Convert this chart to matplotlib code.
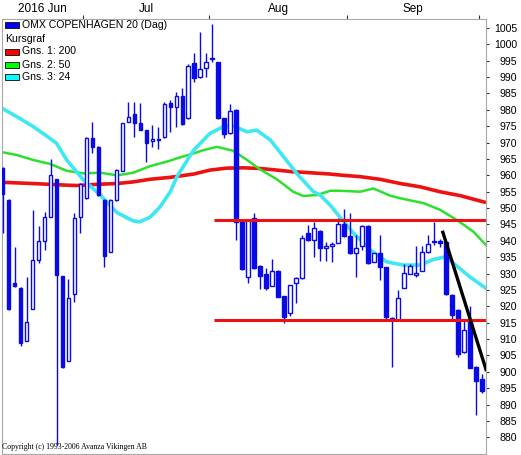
import matplotlib
matplotlib.use('Agg')
import matplotlib.pyplot as plt
from matplotlib.patches import Rectangle
from matplotlib.transforms import Affine2D

# OMX Copenhagen 20, daily, Jun-Sep 2016
opens = [962.3, 952.5, 927.0, 925.7, 909.5, 919.3, 934.1, 940.0, 947.4, 958.8,
         929.2, 903.4, 923.9, 947.4, 953.0, 971.3, 968.7, 952.5, 936.7, 952.5,
         961.4, 976.4, 978.6, 975.9, 973.8, 970.5, 970.9, 971.6, 982.0, 980.8,
         984.2, 977.4, 994.2, 989.9, 992.7, 995.8, 994.5, 977.4, 972.8, 980.0,
         946.3, 929.0, 946.9, 932.3, 929.8, 926.3, 930.8, 923.1, 918.1, 927.0,
         928.5, 942.5, 940.4, 943.0, 937.9, 938.4, 939.4, 945.0, 941.5, 936.2,
         938.5, 944.5, 933.6, 936.2, 931.9, 916.0, 915.8, 925.7, 930.0, 929.5,
         930.9, 936.5, 939.7, 940.0, 939.5, 923.6, 919.0, 905.9, 915.8, 901.5,
         897.7]
highs = [962.5, 952.7, 938.2, 925.9, 929.0, 949.4, 944.5, 948.9, 964.9, 959.0,
         929.4, 928.2, 948.6, 957.7, 971.8, 976.4, 968.9, 952.7, 952.7, 961.8,
         976.1, 982.5, 982.5, 982.0, 974.0, 975.4, 974.9, 982.5, 983.0, 985.5,
         986.6, 993.9, 997.3, 1003.7, 997.3, 1006.2, 994.7, 977.6, 981.7, 980.2,
         946.5, 946.5, 948.6, 932.5, 931.6, 934.6, 931.0, 923.3, 926.6, 929.0,
         941.8, 944.8, 945.8, 943.2, 939.7, 939.7, 947.0, 949.7, 948.6, 941.7,
         944.8, 944.7, 936.4, 941.8, 932.1, 916.6, 925.0, 932.8, 932.8, 938.5,
         938.5, 941.8, 945.8, 940.5, 939.7, 923.8, 919.2, 915.8, 920.2, 901.7,
         899.3]
lows = [942.3, 919.0, 926.0, 908.0, 909.3, 919.1, 933.1, 937.2, 947.2, 877.5,
        901.3, 903.2, 921.4, 942.3, 952.8, 966.7, 953.8, 931.9, 936.5, 952.3,
        961.2, 976.2, 971.6, 973.8, 964.2, 968.7, 968.2, 971.4, 973.3, 974.9,
        975.4, 977.2, 988.6, 989.7, 990.1, 994.7, 977.2, 971.5, 972.6, 940.2,
        931.1, 927.2, 931.4, 925.4, 924.9, 926.1, 922.7, 914.8, 917.0, 920.9,
        928.3, 940.0, 935.1, 933.9, 933.9, 933.6, 939.2, 941.3, 936.1, 929.0,
        937.2, 932.9, 933.4, 928.0, 915.5, 901.5, 915.6, 925.5, 929.8, 929.0,
        930.7, 936.3, 938.7, 938.0, 923.5, 916.0, 904.5, 905.7, 901.1, 886.8,
        893.4]
closes = [954.2, 919.3, 926.3, 908.7, 915.1, 934.1, 939.9, 947.2, 960.1, 929.5,
          901.5, 922.4, 946.9, 957.5, 971.3, 968.7, 954.0, 935.4, 952.5, 961.6,
          975.9, 977.9, 976.0, 974.0, 970.0, 971.1, 971.1, 981.7, 980.8, 984.3,
          975.6, 993.4, 989.6, 992.4, 994.5, 995.5, 977.4, 972.6, 979.6, 945.8,
          931.3, 946.3, 931.6, 929.2, 925.6, 930.9, 922.9, 916.8, 926.4, 928.8,
          941.0, 940.2, 943.8, 937.7, 938.5, 939.0, 945.2, 941.5, 936.3, 937.9,
          944.5, 933.1, 936.2, 931.9, 916.8, 916.3, 922.4, 930.2, 932.2, 930.3,
          936.5, 938.9, 939.5, 939.3, 923.7, 917.5, 905.3, 912.7, 901.3, 897.3,
          894.2]
days = list(range(len(closes)))

# moving averages (day index / value)
ma200_day = [-0.4, 5.1, 10.7, 12.4, 16.3, 19.1, 21.8, 24.6, 28.0, 31.9, 34.6, 37.4,
             40.2, 43.0, 45.8, 48.5, 51.3, 54.7, 56.3, 59.7, 63.0, 66.4, 69.7, 73.0,
             76.4, 80.7]
ma200_val = [957.9, 957.5, 957.0, 956.9, 957.3, 957.5, 958.0, 958.8, 959.4, 960.4, 961.6, 962.2,
             962.3, 962.1, 961.6, 961.1, 960.8, 960.4, 960.1, 959.6, 958.8, 957.5, 956.5, 955.0,
             953.8, 951.7]
ma50_day = [-0.4, 2.4, 5.1, 7.9, 10.7, 13.5, 16.3, 19.1, 21.8, 24.6, 28.0, 29.1, 31.9,
            33.5, 35.8, 38.5, 40.8, 43.0, 45.8, 48.5, 50.2, 52.5, 54.7, 56.3, 59.7,
            61.9, 64.7, 66.4, 70.3, 73.0, 75.8, 78.6, 80.7]
ma50_val = [967.2, 966.2, 964.7, 963.5, 961.4, 960.6, 960.8, 960.0, 960.8, 962.8, 964.5, 965.2, 966.7,
            967.7, 968.7, 967.5, 964.7, 961.8, 958.8, 955.0, 953.7, 954.0, 955.3, 955.3, 955.0,
            956.0, 953.8, 953.0, 951.5, 949.5, 946.4, 942.8, 938.7]
ma24_day = [-0.4, 2.4, 5.1, 7.9, 9.0, 10.7, 13.5, 16.3, 19.1, 21.8, 22.9, 24.6, 26.3,
            28.0, 29.1, 31.9, 34.6, 36.9, 38.5, 40.8, 42.4, 44.7, 46.9, 49.1, 51.9,
            53.0, 54.7, 55.8, 58.6, 61.4, 64.1, 66.9, 69.7, 71.9, 73.9, 75.3, 78.0, 80.7]
ma24_val = [980.8, 977.9, 974.9, 971.3, 969.8, 964.7, 958.6, 954.0, 948.6, 946.1, 945.8, 947.2, 950.4,
            955.0, 959.6, 967.7, 972.8, 974.9, 975.1, 973.3, 973.8, 970.8, 965.7, 960.6, 955.0,
            954.0, 950.9, 948.4, 942.3, 937.2, 933.6, 932.6, 932.6, 934.3, 935.1, 933.1, 929.0, 925.5]

# drawn support / resistance and trend line
levels = [946.3, 915.8]
level_start = 35.3
trend_day = [73.5, 80.7]
trend_val = [942.6, 900.7]

month_edges = [13.5, 34.5, 57.5, 79.5]
month_mid = [6.7, 24.0, 46.0, 68.5]
month_names = ['2016 Jun', 'Jul', 'Aug', 'Sep']

blue = '#0a0ae6'
W, H = 521, 455
fig = plt.figure(figsize=(W / 100, H / 100), dpi=100)
ax = fig.add_axes([2 / W, 1 / H, 484 / W, 435 / H])

ax.plot(ma200_day, ma200_val, color='#ee1111', lw=2.6, zorder=2, solid_capstyle='butt')
ax.plot(ma50_day, ma50_val, color='#2ee02e', lw=1.8, zorder=2)
ax.plot(ma24_day, ma24_val, color='#3ee8f2', lw=2.6, zorder=2)

ax.vlines(days, lows, highs, color=blue, lw=1.0, zorder=3)
for d, o, c in zip(days, opens, closes):
    face = blue if c < o else 'white'
    ax.bar(d, abs(c - o) if abs(c - o) > 0.3 else 0.3, bottom=min(o, c), width=0.6,
           facecolor=face, edgecolor=blue, lw=1.0, zorder=4)

for lv in levels:
    ax.hlines(lv, level_start, 80.7, color='#ee1111', lw=2.2, zorder=5)
ax.plot(trend_day, trend_val, color='black', lw=2.4, zorder=6)

ax.set_xlim(-0.1, 80.7)
ax.set_ylim(874.9, 1007.75)

for s in ax.spines.values():
    s.set_color('#a8a8a8')

ax.yaxis.tick_right()
ax.set_yticks(range(880, 1006, 5))
ax.tick_params(axis='y', direction='out', length=2.2, width=0.8, color='#333333',
               pad=20.2, labelsize=7.6)
for lab in ax.get_yticklabels():
    lab.set_horizontalalignment('right')
    lab.set_fontfamily('Liberation Sans')

ax.xaxis.tick_top()
ax.set_xticks(month_edges)
ax.set_xticklabels([])
ax.set_xticks(month_mid, minor=True)
ax.set_xticklabels(month_names, minor=True, fontsize=8.5, family='Liberation Sans')
ax.tick_params(axis='x', which='major', direction='out', length=3, width=0.8, color='#333333')
ax.tick_params(axis='x', which='minor', length=0, pad=3)

# legend block in pixel coordinates (origin top-left)
px = Affine2D().scale(1 / W, -1 / H).translate(0, 1) + fig.transFigure
legend_rows = [('OMX COPENHAGEN 20 (Dag)', '#0000ff', 25),
               ('Kursgraf', None, 38.5),
               ('Gns. 1: 200', '#ff0000', 51.5),
               ('Gns. 2: 50', '#00ff00', 64.5),
               ('Gns. 3: 24', '#00ffff', 77)]
for label, col, y in legend_rows:
    if col:
        fig.add_artist(Rectangle((5, y - 3), 14, 6, facecolor=col, edgecolor='#202020',
                                 lw=0.7, transform=px, zorder=10))
        fig.text(22.5, y, label, transform=px, va='center', ha='left', fontsize=7.6,
                 family='Liberation Sans', zorder=10)
    else:
        fig.text(5, y, label, transform=px, va='center', ha='left', fontsize=7.6,
                 family='Liberation Sans', zorder=10)

fig.text(2, 447, 'Copyright (c) 1993-2006 Avanza Vikingen AB', transform=px, va='center',
         ha='left', fontsize=5.6, family='Liberation Serif', zorder=10)

fig.savefig('out.png', dpi=100)
